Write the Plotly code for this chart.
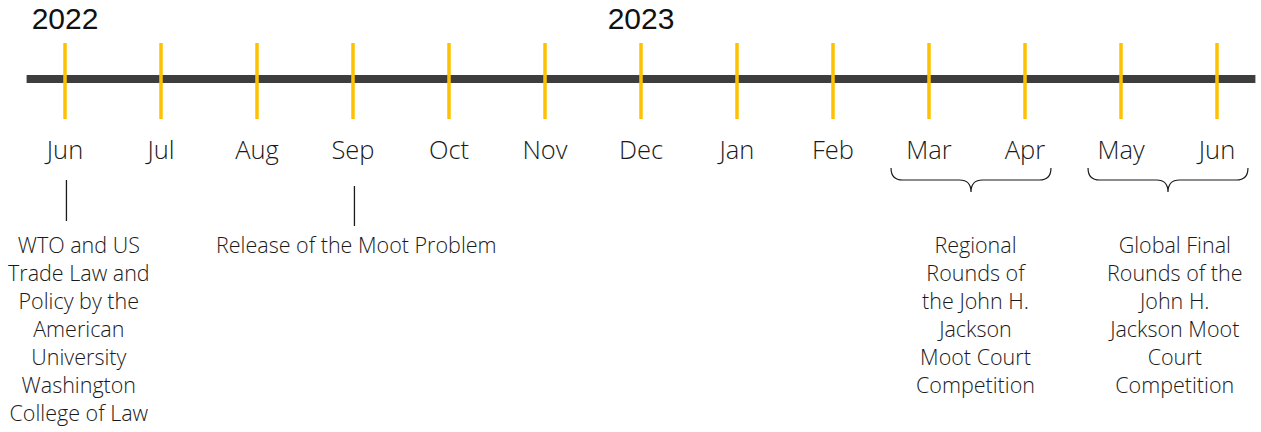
import plotly.graph_objects as go

# ---------------- data ----------------
months = ["Jun", "Jul", "Aug", "Sep", "Oct", "Nov", "Dec",
          "Jan", "Feb", "Mar", "Apr", "May", "Jun"]
year_labels = ["2022", "2023"]
year_month_idx = [0, 6]

# single-point events (connector line)
point_event_idx = [0, 3]
point_event_text = [
    "WTO and US<br>Trade Law and<br>Policy by the<br>American<br>University<br>Washington<br>College of Law",
    "Release of the Moot Problem",
]
# span events (curly brace)
span_event_start = [9, 11]
span_event_end = [10, 12]
span_event_text = [
    "Regional<br>Rounds of<br>the John H.<br>Jackson<br>Moot Court<br>Competition",
    "Global Final<br>Rounds of the<br>John H.<br>Jackson Moot<br>Court<br>Competition",
]

# ---------------- styling ----------------
W, H = 1261, 432
PX_PER_MONTH = 96.0
X0_PX = 65.0
BAR_Y = 79
TICK_TOP, TICK_BOT = 43, 119
MONTH_Y = 153
YEAR_Y = 21
DESC_TOP = 228
BAR_COLOR = "#3d3d3d"
TICK_COLOR = "#FFC000"
LIGHT_FONT = dict(family="Open Sans", size=25.5, color="#1a1a1a", weight=300)
DESC_FONT = dict(family="Open Sans", size=21.5, color="#1a1a1a", weight=300)

fig = go.Figure()

n = len(months)
idx = list(range(n))

# timeline bar
fig.add_trace(go.Scatter(
    x=[-0.4, n - 1 + 0.4], y=[BAR_Y, BAR_Y], mode="lines",
    line=dict(color=BAR_COLOR, width=8), hoverinfo="skip", showlegend=False))

# yellow month ticks
tx, ty = [], []
for i in idx:
    tx += [i, i, None]
    ty += [TICK_TOP, TICK_BOT, None]
fig.add_trace(go.Scatter(
    x=tx, y=ty, mode="lines", line=dict(color=TICK_COLOR, width=3.5),
    hoverinfo="skip", showlegend=False))

# month labels
fig.add_trace(go.Scatter(
    x=idx, y=[MONTH_Y] * n, mode="text", text=months,
    textposition="middle center", textfont=LIGHT_FONT,
    hoverinfo="skip", showlegend=False))

# year labels
fig.add_trace(go.Scatter(
    x=year_month_idx, y=[YEAR_Y] * len(year_labels), mode="text",
    text=year_labels, textposition="middle center",
    textfont=dict(family="Liberation Sans", size=30, color="#111111",
                  weight="normal"),
    hoverinfo="skip", showlegend=False))

# point events: connector + text
cx, cy = [], []
conn_top = [180, 186]
conn_bot = [221, 226]
text_shift = [14, 3]
for k, i in enumerate(point_event_idx):
    cx += [i + 0.015, i + 0.015, None]
    cy += [conn_top[k], conn_bot[k], None]
    fig.add_annotation(
        x=i, y=DESC_TOP, xref="x", yref="y", text=point_event_text[k],
        showarrow=False, xanchor="center", yanchor="top", align="center",
        xshift=text_shift[k], font=DESC_FONT)
fig.add_trace(go.Scatter(
    x=cx, y=cy, mode="lines", line=dict(color="#1a1a1a", width=1.3),
    hoverinfo="skip", showlegend=False))

# span events: braces + text
HW = 0.833
d = 0.12
brace_shift_px = [-6, -1]
span_shift = [-2, 6]
for k, (s, e) in enumerate(zip(span_event_start, span_event_end)):
    c = (s + e) / 2.0 + brace_shift_px[k] / PX_PER_MONTH
    a, b = c - HW, c + HW
    top, mid, tip = 168, 180, 192
    path = (f"M {a},{top} Q {a},{mid} {a + d},{mid} L {c - d},{mid} "
            f"Q {c},{mid} {c},{tip} Q {c},{mid} {c + d},{mid} "
            f"L {b - d},{mid} Q {b},{mid} {b},{top}")
    fig.add_shape(type="path", path=path, xref="x", yref="y",
                  line=dict(color="#1a1a1a", width=1.2))
    fig.add_annotation(
        x=(s + e) / 2.0, y=DESC_TOP, xref="x", yref="y",
        text=span_event_text[k],
        showarrow=False, xanchor="center", yanchor="top", align="center",
        xshift=span_shift[k], font=DESC_FONT)

x_lo = -X0_PX / PX_PER_MONTH
x_hi = (W - X0_PX) / PX_PER_MONTH
fig.update_xaxes(range=[x_lo, x_hi], visible=False, fixedrange=True)
fig.update_yaxes(range=[H, 0], visible=False, fixedrange=True)
fig.update_layout(
    width=W, height=H, margin=dict(l=0, r=0, t=0, b=0),
    paper_bgcolor="white", plot_bgcolor="white", showlegend=False)

fig.write_html("out.html", config={"displayModeBar": False},
               post_script="document.body.style.margin='0px';"
                           "document.body.style.overflow='hidden';")
